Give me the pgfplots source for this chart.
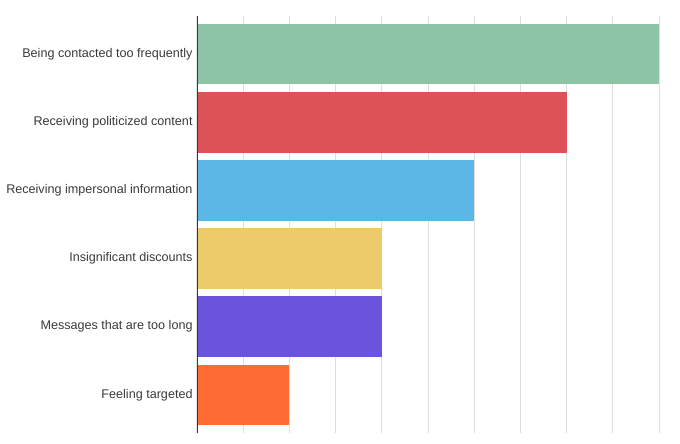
\documentclass[border=0pt]{standalone}
\usepackage{pgfplots}
\pgfplotsset{compat=1.18}
\usepackage{fontspec}
\setmainfont{Liberation Sans}
\definecolor{cgreen}{HTML}{8DC4A7}
\definecolor{cred}{HTML}{DD5259}
\definecolor{cblue}{HTML}{5DB7E6}
\definecolor{cyellow}{HTML}{EECB6A}
\definecolor{cpurple}{HTML}{6C53DC}
\definecolor{corange}{HTML}{FF6B35}
\definecolor{labgray}{HTML}{3A3A3A}
\begin{document}
\begin{tikzpicture}
\begin{axis}[
  scale only axis,
  width=462bp, height=417bp,
  xmin=0, xmax=10,
  ymin=-0.56, ymax=5.56,
  y dir=reverse,
  xbar, bar width=0.89, bar shift=0pt,
  xtick={0,1,...,10}, xticklabels={},
  xmajorgrids, major grid style={draw=black!13, line width=0.8bp},
  ytick={0,1,2,3,4,5},
  yticklabels={Being contacted too frequently, Receiving politicized content, Receiving impersonal information, Insignificant discounts, Messages that are too long, Feeling targeted},
  yticklabel style={font=\fontsize{12.6bp}{14bp}\selectfont, text=labgray, inner sep=0pt, xshift=0bp},
  axis line style={draw=none},
  tick style={draw=none},
]
\addplot[fill=cgreen, draw=none] coordinates {(10,0)};
\addplot[fill=cred, draw=none] coordinates {(8,1)};
\addplot[fill=cblue, draw=none] coordinates {(6,2)};
\addplot[fill=cyellow, draw=none] coordinates {(4,3)};
\addplot[fill=cpurple, draw=none] coordinates {(4,4)};
\addplot[fill=corange, draw=none] coordinates {(2,5)};
\draw[line width=2bp, color=black!78] (rel axis cs:0,0) -- (rel axis cs:0,1);
\end{axis}
\pgfresetboundingbox
\path ([xshift=-197bp,yshift=-11bp]current axis.south west) rectangle ([xshift=21bp,yshift=16bp]current axis.north east);
\end{tikzpicture}
\end{document}
